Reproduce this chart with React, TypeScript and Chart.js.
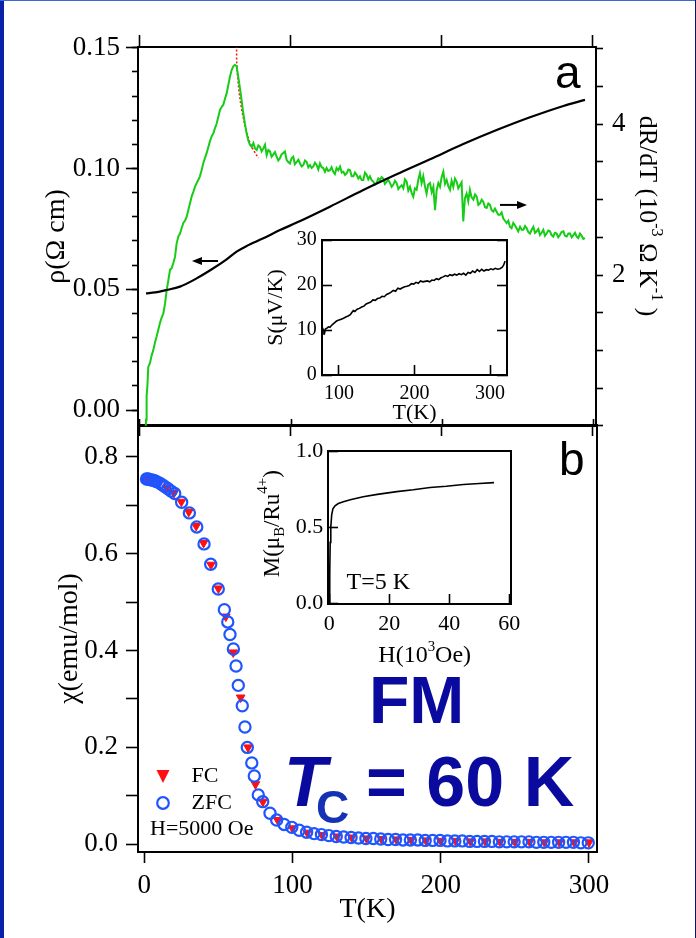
import React, { useEffect, useRef } from 'react';
import { Chart, registerables } from 'chart.js';
Chart.register(...registerables);

// ---------------- data ----------------
const RHO_T = [4, 10, 17.7, 26.5, 37.5, 48.6, 57.4, 64, 70.6, 81.7, 92.7, 103.8, 125.8, 147.9, 170, 192.1, 214.1, 236.2, 258.3, 280.4, 294.7];
const RHO = [0.0483, 0.0487, 0.0497, 0.0511, 0.0545, 0.0587, 0.0624, 0.0656, 0.0679, 0.0711, 0.0745, 0.0776, 0.0842, 0.0911, 0.0976, 0.1038, 0.1101, 0.1159, 0.1212, 0.1259, 0.1284];

const DRDT_T = [3.9, 4.0, 4.4, 4.9, 5.5, 6.6, 7.7, 8.8, 9.9, 11.0, 12.1, 13.2, 14.3, 15.5, 16.6, 17.7, 18.8, 19.9, 21.0, 22.1, 23.2, 24.3, 25.4, 26.5, 27.6, 28.7, 29.8, 30.9, 32.0, 33.1, 34.2, 35.3, 36.4, 37.5, 38.6, 39.7, 40.8, 41.9, 43.0, 44.2, 45.3, 46.4, 47.5, 48.6, 49.7, 50.8, 51.9, 53.0, 54.1, 55.2, 56.3, 57.4, 58.5, 59.6, 60.7, 61.8, 62.9, 64.0, 65.1, 66.2, 67.3, 68.4, 69.5, 70.6, 71.7, 72.8,
  74.0, 75.1, 76.2, 77.3, 78.4, 79.5, 80.6, 81.7, 82.8, 83.9, 85.0, 86.1, 87.2, 88.3, 89.4, 90.5, 91.6, 92.7, 93.8, 94.9, 96.0, 97.1, 98.2, 99.3, 100.4, 101.5, 102.6, 103.8, 104.9, 106.0, 107.1, 108.2, 109.3, 110.4, 111.5, 112.6, 113.7, 114.8, 115.9, 117.0, 118.1, 119.2, 120.3, 121.4, 122.5, 123.6, 124.7, 125.8, 126.9, 128.0, 129.1, 130.2, 131.3, 132.5, 133.6, 134.7, 135.8, 136.9, 138.0, 139.1, 140.2, 141.3, 142.4, 143.5, 144.6, 145.7, 146.8, 147.9, 149.0, 150.1, 151.2, 152.3, 153.4, 154.5, 155.6, 156.7, 157.8, 158.9, 160.0, 161.1, 162.2, 163.4, 164.5, 165.6, 166.7, 167.8, 168.9, 170.0, 171.1, 172.2, 173.3, 174.4, 175.5, 176.6, 177.7, 178.8, 179.9, 181.0, 182.1, 183.2, 184.3, 185.4, 186.5, 187.6, 188.7, 189.8, 190.9, 192.1, 193.2, 194.3, 195.4, 196.5, 197.6, 198.7, 199.8, 200.9, 202.0, 203.1, 204.2, 205.3, 206.4, 207.5, 208.6, 209.7, 210.8, 211.9, 213.0, 214.1, 215.2, 216.3, 217.4, 218.5, 219.6, 220.8, 221.9, 223.0, 224.1, 225.2, 226.3, 227.4, 228.5, 229.6, 230.7, 231.8, 232.9, 234.0, 235.1, 236.2, 237.3, 238.4, 239.5, 240.6, 241.7, 242.8, 243.9, 245.0, 246.1, 247.2, 248.3, 249.4, 250.5, 251.7, 252.8, 253.9, 255.0, 256.1, 257.2, 258.3, 259.4, 260.5, 261.6, 262.7, 263.8, 264.9, 266.0, 267.1, 268.2, 269.3, 270.4, 271.5, 272.6, 273.7, 274.8, 275.9, 277.0, 278.1, 279.2, 280.4, 281.5, 282.6, 283.7, 284.8, 285.9, 287.0, 288.1, 289.2, 290.3, 291.4, 292.5, 293.6, 294.7];
const DRDT = [0.0, 0.08, 0.39, 0.52, 0.78, 0.83, 0.93, 1.00, 1.10, 1.18, 1.27, 1.36, 1.43, 1.49, 1.62, 1.80, 1.93, 2.07, 2.09, 2.16, 2.24, 2.42, 2.51, 2.55, 2.62, 2.69, 2.72, 2.77, 2.86, 2.95, 3.04, 3.10, 3.17, 3.22, 3.26, 3.31, 3.39, 3.48, 3.55, 3.62, 3.70, 3.78, 3.84, 3.88, 3.95, 4.01, 4.10, 4.19, 4.23, 4.26, 4.34, 4.41, 4.52, 4.63, 4.72, 4.77, 4.79, 4.77, 4.63, 4.48, 4.32, 4.15, 4.01, 3.88, 3.79, 3.73,
  3.70, 3.75, 3.68, 3.66, 3.72, 3.70, 3.64, 3.68, 3.73, 3.59, 3.66, 3.64, 3.57, 3.60, 3.63, 3.57, 3.52, 3.55, 3.60, 3.62, 3.64, 3.53, 3.50, 3.48, 3.55, 3.57, 3.47, 3.50, 3.53, 3.48, 3.44, 3.46, 3.52, 3.50, 3.43, 3.46, 3.42, 3.44, 3.49, 3.46, 3.40, 3.48, 3.43, 3.42, 3.37, 3.42, 3.38, 3.39, 3.43, 3.37, 3.34, 3.42, 3.39, 3.44, 3.36, 3.37, 3.33, 3.35, 3.40, 3.39, 3.31, 3.31, 3.36, 3.33, 3.28, 3.31, 3.26, 3.26, 3.36, 3.33, 3.27, 3.31, 3.26, 3.24, 3.20, 3.22, 3.28, 3.26, 3.30, 3.28, 3.21, 3.24, 3.26, 3.22, 3.17, 3.20, 3.25, 3.22, 3.14, 3.17, 3.19, 3.15, 3.27, 3.24, 3.12, 3.17, 3.09, 3.04, 3.15, 3.13, 3.26, 3.35, 3.22, 3.31, 3.18, 3.08, 3.20, 3.22, 3.10, 3.17, 2.86, 3.13, 3.22, 3.17, 3.30, 3.37, 3.21, 3.26, 3.18, 3.13, 3.25, 3.17, 3.28, 3.24, 3.15, 3.19, 3.23, 2.71, 3.02, 3.08, 2.98, 3.13, 3.03, 3.00, 3.07, 3.04, 2.93, 2.95, 3.00, 2.97, 2.90, 2.89, 2.95, 2.93, 2.86, 2.84, 2.88, 2.84, 2.80, 2.80, 2.83, 2.75, 2.72, 2.69, 2.72, 2.64, 2.62, 2.69, 2.66, 2.62, 2.58, 2.64, 2.60, 2.60, 2.65, 2.62, 2.57, 2.55, 2.60, 2.64, 2.56, 2.58, 2.61, 2.53, 2.56, 2.60, 2.52, 2.55, 2.59, 2.58, 2.53, 2.51, 2.56, 2.55, 2.50, 2.53, 2.57, 2.58, 2.52, 2.51, 2.55, 2.55, 2.50, 2.53, 2.56, 2.51, 2.49, 2.55, 2.52, 2.48, 2.49];

const FIT_T = [64.0, 64.0, 64.6, 65.5, 66.5, 67.5, 69.0, 70.5, 72.0, 74.0, 76.0, 78.4];
const FIT = [5.1, 4.85, 4.65, 4.45, 4.30, 4.18, 4.03, 3.90, 3.80, 3.70, 3.63, 3.55];

const SEEBECK_T = [79, 80, 81, 82, 84, 86, 88, 90, 92, 94, 96, 98, 100, 103, 106, 109, 112, 115, 117, 119, 121, 124, 127, 130, 133, 136, 139, 142, 145, 148, 151, 154, 157, 160, 163, 166, 169, 172, 175, 178, 181, 184, 187, 190, 193, 196, 199, 202, 205, 208, 211, 214, 217, 220, 223, 226, 229, 232, 235, 238, 241, 244, 247, 250, 253, 256, 259, 262, 265, 268, 271, 274, 277, 280, 283, 286, 289, 292, 295, 298, 301, 304, 307, 310, 313, 316, 318, 320];
const SEEBECK = [9.1, 9.8, 9.4, 10.2, 10.4, 10.7, 10.6, 11.0, 11.3, 11.6, 11.9, 12.1, 12.2, 12.4, 12.6, 12.9, 13.1, 13.4, 13.9, 14.3, 14.1, 14.6, 14.8, 15.1, 15.3, 15.8, 16.0, 16.2, 16.7, 16.6, 17.0, 17.1, 17.5, 17.4, 17.9, 18.1, 18.4, 18.8, 18.6, 19.3, 19.1, 19.4, 19.6, 19.7, 19.9, 20.3, 20.2, 20.6, 20.4, 20.9, 20.7, 20.8, 20.9, 20.7, 21.1, 21.0, 21.4, 21.2, 21.6, 21.8, 22.1, 21.9, 22.3, 22.1, 22.4, 22.2, 22.5, 22.3, 22.6, 22.2, 22.8, 22.6, 23.1, 22.8, 23.4, 23.0, 23.5, 23.1, 23.4, 23.3, 23.6, 23.4, 23.7, 23.5, 23.6, 23.9, 24.4, 25.3];

const ZFC_T = [1.5, 2.5, 3.5, 5, 6.5, 8, 10, 12, 14, 16, 18, 20.5, 25.2, 30.4, 35.4, 40.3, 44.8, 49.9, 54, 56.3, 57.8, 60.1, 61.9, 63.4, 66.1, 67.9, 69.5, 72.5, 74.2, 76.9, 79.9, 84.8, 89.3, 94.3, 99.5, 104.5, 109.5, 114.5, 119.5, 124.5, 129.5, 134.5, 139.5, 144.5, 149.5, 154.5, 159.5, 164.5, 169.5, 174.5, 179.5, 184.5, 189.5, 194.5, 199.5, 204.5, 209.5, 214.5, 219.5, 224.5, 229.5, 234.5, 239.5, 244.5, 249.5, 254.5, 259.5, 264.5, 269.5, 274.5, 279.5, 284.5, 289.5, 294.5, 299.5];
const ZFC = [0.754, 0.754, 0.753, 0.752, 0.751, 0.749, 0.746, 0.742, 0.738, 0.734, 0.729, 0.724, 0.706, 0.684, 0.655, 0.620, 0.578, 0.527, 0.484, 0.459, 0.433, 0.403, 0.368, 0.328, 0.286, 0.242, 0.200, 0.168, 0.141, 0.102, 0.088, 0.064, 0.050, 0.041, 0.035, 0.029, 0.025, 0.022, 0.020, 0.018, 0.016, 0.015, 0.014, 0.013, 0.012, 0.012, 0.011, 0.010, 0.010, 0.009, 0.009, 0.009, 0.008, 0.008, 0.008, 0.007, 0.007, 0.007, 0.006, 0.006, 0.006, 0.006, 0.005, 0.005, 0.005, 0.005, 0.005, 0.004, 0.004, 0.004, 0.004, 0.004, 0.004, 0.003, 0.003];

const FC_T = [2, 5, 10, 15, 20, 25, 30, 35, 40, 45, 50, 55, 60, 65, 70, 75, 80, 90, 100, 110, 120, 130, 140, 150, 160, 170, 180, 190, 200, 210, 220, 230, 240, 250, 260, 270, 280, 290, 300];
const FC = [0.754, 0.752, 0.746, 0.736, 0.725, 0.707, 0.686, 0.657, 0.622, 0.577, 0.528, 0.470, 0.396, 0.303, 0.200, 0.124, 0.088, 0.050, 0.033, 0.024, 0.019, 0.016, 0.014, 0.012, 0.011, 0.010, 0.009, 0.008, 0.007, 0.007, 0.006, 0.006, 0.005, 0.005, 0.005, 0.004, 0.004, 0.004, 0.004];

const MH_H = [0, 0.1, 0.2, 0.3, 0.5, 0.8, 1.2, 1.9, 3, 4.7, 7, 11.3, 16, 22.5, 28, 33.6, 39, 44.7, 50, 54.9];
const MH_M = [0, 0.05, 0.2, 0.4, 0.5, 0.58, 0.62, 0.64, 0.655, 0.667, 0.68, 0.70, 0.715, 0.733, 0.745, 0.76, 0.768, 0.78, 0.787, 0.792];

// tick values
const T_TICKS = [0, 100, 200, 300];
const RHO_TICKS = [0, 0.05, 0.1, 0.15];
const RHO_MINOR = [0, 0.01, 0.02, 0.03, 0.04, 0.05, 0.06, 0.07, 0.08, 0.09, 0.1, 0.11, 0.12, 0.13, 0.14, 0.15];
const DRDT_TICKS = [0, 0.5, 1, 1.5, 2, 2.5, 3, 3.5, 4, 4.5, 5];
const DRDT_LABELS = [2, 4];
const CHI_TICKS = [0, 0.1, 0.2, 0.3, 0.4, 0.5, 0.6, 0.7, 0.8];
const S_T_TICKS = [100, 200, 300];
const S_TICKS = [0, 10, 20, 30];
const H_TICKS = [0, 20, 40, 60];
const M_TICKS = [0, 0.5, 1.0];

// annotation arrows (data coordinates)
const ARROW_RHO = { from: 51.7, to: 34.4, y: 0.0617 };
const ARROW_DRDT = { from: 238.4, to: 256.3, y: 2.93 };

// ---------------- styles ----------------
const SERIF = 'Liberation Serif';
const SANS = 'Liberation Sans';
const GREEN = '#16cc16';
const RED = '#ff1010';
const BLUE = '#1f55ff';
const NAVY = '#0a0a9e';
const NAVY2 = '#1632b4';

Chart.defaults.font.family = SERIF;
Chart.defaults.color = '#000';

const pts = (xs: number[], ys: number[]) => xs.map((x, i) => ({ x, y: ys[i] }));
const fixW = (w: number) => (s: any) => { s.width = w; };
const fixH = (h: number) => (s: any) => { s.height = h; };
const setTicks = (vals: number[]) => (s: any) => { s.ticks = vals.map((v) => ({ value: v })); };
const f = (size: number) => ({ family: SERIF, size });

function grid(tickLength: number, drawTicks = true) {
  return { drawOnChartArea: false, drawTicks, tickLength, tickWidth: 1.6, tickColor: '#000', color: '#000' };
}
const BORDER = { display: true, color: '#000', width: 2 };

type Seg = { t: string; s?: number; dy?: number };
function drawRich(ctx: CanvasRenderingContext2D, segs: Seg[], x: number, y: number, size: number, family: string, rot: number) {
  ctx.save();
  ctx.translate(x, y);
  if (rot) ctx.rotate(rot);
  ctx.fillStyle = '#000';
  ctx.textBaseline = 'middle';
  ctx.textAlign = 'left';
  const widths = segs.map((sg) => {
    ctx.font = `${size * (sg.s ?? 1)}px ${family}`;
    return ctx.measureText(sg.t).width;
  });
  const total = widths.reduce((a, b) => a + b, 0);
  let cx = -total / 2;
  segs.forEach((sg, i) => {
    ctx.font = `${size * (sg.s ?? 1)}px ${family}`;
    ctx.fillText(sg.t, cx, (sg.dy ?? 0) * size);
    cx += widths[i];
  });
  ctx.restore();
}

function arrow(ctx: CanvasRenderingContext2D, x1: number, x2: number, y: number) {
  const dir = Math.sign(x2 - x1);
  const head = 10;
  ctx.save();
  ctx.strokeStyle = '#000';
  ctx.fillStyle = '#000';
  ctx.lineWidth = 2;
  ctx.beginPath();
  ctx.moveTo(x1, y);
  ctx.lineTo(x2 - dir * head, y);
  ctx.stroke();
  ctx.beginPath();
  ctx.moveTo(x2, y);
  ctx.lineTo(x2 - dir * head, y - 4);
  ctx.lineTo(x2 - dir * head, y + 4);
  ctx.closePath();
  ctx.fill();
  ctx.restore();
}

const annotA = {
  id: 'annotA',
  afterDraw(chart: any) {
    const ctx = chart.ctx as CanvasRenderingContext2D;
    const { x, y, yR } = chart.scales;
    arrow(ctx, x.getPixelForValue(ARROW_RHO.from), x.getPixelForValue(ARROW_RHO.to), y.getPixelForValue(ARROW_RHO.y));
    arrow(ctx, x.getPixelForValue(ARROW_DRDT.from), x.getPixelForValue(ARROW_DRDT.to), yR.getPixelForValue(ARROW_DRDT.y));
    drawRich(ctx, [
      { t: 'dR/dT (10' }, { t: '-3', s: 0.62, dy: -0.38 }, { t: ' Ω K' }, { t: '-1', s: 0.62, dy: -0.38 }, { t: ' )' },
    ], 646.7, 216, 26, SERIF, Math.PI / 2);
    ctx.save();
    ctx.fillStyle = '#000';
    ctx.font = `46px ${SANS}`;
    ctx.textBaseline = 'alphabetic';
    ctx.textAlign = 'left';
    ctx.fillText('a', 555, 88);
    ctx.restore();
  },
};

const annotB = {
  id: 'annotB',
  afterDraw(chart: any) {
    const ctx = chart.ctx as CanvasRenderingContext2D;
    const ds = chart.data.datasets;
    ctx.save();
    ctx.fillStyle = RED;
    ctx.beginPath();
    ctx.moveTo(156.5, 770);
    ctx.lineTo(169.5, 770);
    ctx.lineTo(163, 783);
    ctx.closePath();
    ctx.fill();
    ctx.strokeStyle = BLUE;
    ctx.lineWidth = 2.2;
    ctx.beginPath();
    ctx.arc(163, 803, 5.8, 0, Math.PI * 2);
    ctx.stroke();
    ctx.fillStyle = '#000';
    ctx.font = `22px ${SERIF}`;
    ctx.textBaseline = 'middle';
    ctx.textAlign = 'left';
    ctx.fillText(ds[1].label, 191.5, 776);
    ctx.fillText(ds[0].label, 191.5, 803);
    ctx.fillText('H=5000 Oe', 150, 829.5);
    ctx.textBaseline = 'alphabetic';
    ctx.font = `46px ${SANS}`;
    ctx.fillText('b', 559, 475);
    ctx.fillStyle = NAVY;
    ctx.font = `bold 66px ${SANS}`;
    ctx.fillText('FM', 369, 723);
    ctx.font = `italic bold 70px ${SANS}`;
    ctx.fillText('T', 284, 806);
    ctx.fillStyle = NAVY2;
    ctx.font = `bold 46px ${SANS}`;
    ctx.fillText('C', 316, 823);
    ctx.fillStyle = NAVY;
    ctx.font = `bold 70px ${SANS}`;
    ctx.fillText('= 60 K', 366, 806);
    ctx.restore();
  },
};

const annotM = {
  id: 'annotM',
  afterDraw(chart: any) {
    const ctx = chart.ctx as CanvasRenderingContext2D;
    drawRich(ctx, [{ t: 'M(μ' }, { t: 'B', s: 0.65, dy: 0.3 }, { t: '/Ru' }, { t: '4+', s: 0.65, dy: -0.42 }, { t: ')' }], 273, 523.7, 23, SERIF, -Math.PI / 2);
    drawRich(ctx, [{ t: 'H(10' }, { t: '3', s: 0.62, dy: -0.38 }, { t: 'Oe)' }], 424.7, 656, 24, SERIF, 0);
    ctx.save();
    ctx.fillStyle = '#000';
    ctx.font = `24px ${SERIF}`;
    ctx.textBaseline = 'middle';
    ctx.textAlign = 'left';
    ctx.fillText('T=5 K', 346.5, 583);
    ctx.restore();
  },
};

const whiteArea = {
  id: 'whiteArea',
  beforeDraw(chart: any) {
    const { ctx, chartArea: a } = chart;
    ctx.save();
    ctx.fillStyle = '#fff';
    ctx.fillRect(a.left, a.top, a.right - a.left, a.bottom - a.top);
    ctx.restore();
  },
};

const common = {
  responsive: false,
  animation: false as const,
  events: [] as any[],
  plugins: { legend: { display: false }, tooltip: { enabled: false } },
};

function configA(): any {
  return {
    type: 'line',
    data: {
      datasets: [
        { label: 'ρ', data: pts(RHO_T, RHO), xAxisID: 'x', yAxisID: 'y', borderColor: '#000', borderWidth: 2.2, pointRadius: 0, cubicInterpolationMode: 'monotone' },
        { label: 'dR/dT', data: pts(DRDT_T, DRDT), xAxisID: 'x', yAxisID: 'yR', borderColor: GREEN, borderWidth: 2, pointRadius: 0 },
        { label: 'fit', data: pts(FIT_T, FIT), xAxisID: 'x', yAxisID: 'yR', borderColor: RED, borderWidth: 1.5, borderDash: [2, 2], pointRadius: 0 },
      ],
    },
    options: {
      ...common,
      layout: { padding: { left: 40, top: 34, right: 40, bottom: 500 } },
      scales: {
        x: { type: 'linear', position: 'bottom', min: -1.3, max: 302, afterBuildTicks: setTicks(T_TICKS), ticks: { display: false }, grid: grid(10), border: BORDER, afterFit: fixH(12) },
        xTop: { type: 'linear', position: 'top', min: -1.3, max: 302, afterBuildTicks: setTicks(T_TICKS), ticks: { display: false }, grid: grid(12), border: BORDER, afterFit: fixH(13) },
        y: {
          type: 'linear', position: 'left', weight: 1, min: -0.0066, max: 0.1503,
          afterBuildTicks: setTicks(RHO_TICKS),
          ticks: { autoSkip: false, padding: 6, font: f(27), color: '#000', callback: (v: number) => v.toFixed(2) },
          grid: grid(12), border: BORDER,
          title: { display: true, text: 'ρ(Ω cm)', font: f(28), color: '#000', padding: 0 },
          afterFit: fixW(98),
        },
        yMinor: { type: 'linear', position: 'left', weight: 0, min: -0.0066, max: 0.1503, afterBuildTicks: setTicks(RHO_MINOR), ticks: { display: false }, grid: grid(6), border: BORDER, afterFit: fixW(0) },
        yR: {
          type: 'linear', position: 'right', min: -0.004, max: 5.026,
          afterBuildTicks: setTicks(DRDT_TICKS),
          ticks: { autoSkip: false, padding: 9, font: f(27), color: '#000', callback: (v: number) => (DRDT_LABELS.includes(v) ? String(v) : '') },
          grid: grid(7), border: BORDER, afterFit: fixW(60),
        },
      },
    },
    plugins: [annotA],
  };
}

function configB(): any {
  return {
    type: 'scatter',
    data: {
      datasets: [
        { label: 'ZFC', data: pts(ZFC_T, ZFC), pointStyle: 'circle', pointRadius: 5.6, borderColor: BLUE, backgroundColor: 'rgba(0,0,0,0)', borderWidth: 2.2, order: 0 },
        { label: 'FC', data: pts(FC_T, FC), pointStyle: 'triangle', pointRotation: 180, pointRadius: 5, borderColor: RED, backgroundColor: RED, borderWidth: 1, order: 1 },
      ],
    },
    options: {
      ...common,
      layout: { padding: { left: 53, top: 419, right: 99, bottom: 12 } },
      scales: {
        x: {
          type: 'linear', position: 'bottom', min: -4.25, max: 305.4,
          afterBuildTicks: setTicks(T_TICKS),
          ticks: { autoSkip: false, padding: 7, font: f(27), color: '#000' },
          grid: grid(11), border: BORDER,
          title: { display: true, text: 'T(K)', font: f(28), color: '#000', padding: 0 },
          afterFit: fixH(74),
        },
        xTop: { type: 'linear', position: 'top', min: -1.3, max: 302, afterBuildTicks: setTicks(T_TICKS), ticks: { display: false }, grid: grid(6), border: BORDER, afterFit: fixH(6) },
        y: {
          type: 'linear', position: 'left', min: -0.0159, max: 0.8654,
          afterBuildTicks: setTicks(CHI_TICKS),
          ticks: { autoSkip: false, padding: 8, font: f(27), color: '#000', callback: (v: number) => (Math.round(v * 10) % 2 === 0 ? v.toFixed(1) : '') },
          grid: grid(12), border: BORDER,
          title: { display: true, text: 'χ(emu/mol)', font: f(28), color: '#000', padding: 0 },
          afterFit: fixW(85),
        },
        yR: { type: 'linear', position: 'right', min: -0.0159, max: 0.8654, ticks: { display: false }, grid: grid(0, false), border: BORDER, afterFit: fixW(0) },
      },
    },
    plugins: [annotB],
  };
}

function configS(): any {
  return {
    type: 'line',
    data: { datasets: [{ label: 'S', data: pts(SEEBECK_T, SEEBECK), borderColor: '#000', borderWidth: 1.6, pointRadius: 0 }] },
    options: {
      ...common,
      layout: { padding: { left: 262.8, top: 240, right: 189, bottom: 511.8 } },
      scales: {
        x: {
          type: 'linear', position: 'bottom', min: 77.5, max: 322.5,
          afterBuildTicks: setTicks(S_T_TICKS),
          ticks: { autoSkip: false, padding: 16.3, font: f(20), color: '#000' },
          grid: grid(-10), border: BORDER,
          title: { display: true, text: 'T(K)', font: f(22), color: '#000', padding: 0 },
          afterFit: fixH(51.2),
        },
        xTop: { type: 'linear', position: 'top', min: 77.5, max: 322.5, ticks: { display: false }, grid: grid(0, false), border: BORDER, afterFit: fixH(0) },
        y: {
          type: 'linear', position: 'left', min: 0, max: 30,
          afterBuildTicks: setTicks(S_TICKS),
          ticks: { autoSkip: false, padding: 15.3, font: f(20), color: '#000' },
          grid: grid(-10), border: BORDER,
          title: { display: true, text: 'S(μV/K)', font: f(22), color: '#000', padding: 0 },
          afterFit: fixW(59.2),
        },
        yR: { type: 'linear', position: 'right', min: 0, max: 30, afterBuildTicks: setTicks(S_TICKS), ticks: { display: false }, grid: grid(-10), border: BORDER, afterFit: fixW(0) },
      },
    },
    plugins: [whiteArea],
  };
}

function configM(): any {
  return {
    type: 'line',
    data: { datasets: [{ label: 'M', data: pts(MH_H, MH_M), borderColor: '#000', borderWidth: 1.6, pointRadius: 0 }] },
    options: {
      ...common,
      layout: { padding: { left: 288, top: 451, right: 185, bottom: 294 } },
      scales: {
        x: {
          type: 'linear', position: 'bottom', min: -0.43, max: 60.57,
          afterBuildTicks: setTicks(H_TICKS),
          ticks: { autoSkip: false, padding: 16.8, font: f(22), color: '#000' },
          grid: grid(-10), border: BORDER, afterFit: fixH(40),
        },
        xTop: { type: 'linear', position: 'top', min: -0.43, max: 60.57, ticks: { display: false }, grid: grid(0, false), border: BORDER, afterFit: fixH(0) },
        y: {
          type: 'linear', position: 'left', min: -0.005, max: 1.0,
          afterBuildTicks: setTicks(M_TICKS),
          ticks: { autoSkip: false, padding: 14.7, font: f(22), color: '#000', callback: (v: number) => v.toFixed(1) },
          grid: grid(-10), border: BORDER, afterFit: fixW(40),
        },
        yR: { type: 'linear', position: 'right', min: -0.005, max: 1.0, ticks: { display: false }, grid: grid(0, false), border: BORDER, afterFit: fixW(0) },
      },
    },
    plugins: [whiteArea, annotM],
  };
}

const canvasStyle: React.CSSProperties = { position: 'absolute', left: 0, top: 0, width: 696, height: 938 };

export default function App() {
  const rB = useRef<HTMLCanvasElement>(null);
  const rA = useRef<HTMLCanvasElement>(null);
  const rS = useRef<HTMLCanvasElement>(null);
  const rM = useRef<HTMLCanvasElement>(null);

  useEffect(() => {
    const charts = [
      new Chart(rB.current as HTMLCanvasElement, configB()),
      new Chart(rA.current as HTMLCanvasElement, configA()),
      new Chart(rS.current as HTMLCanvasElement, configS()),
      new Chart(rM.current as HTMLCanvasElement, configM()),
    ];
    return () => charts.forEach((c) => c.destroy());
  }, []);

  return (
    <div style={{ position: 'absolute', left: 0, top: 0, width: 696, height: 938, background: '#fff', overflow: 'hidden' }}>
      <canvas ref={rB} width={696} height={938} style={canvasStyle} />
      <canvas ref={rA} width={696} height={938} style={canvasStyle} />
      <canvas ref={rS} width={696} height={938} style={canvasStyle} />
      <canvas ref={rM} width={696} height={938} style={canvasStyle} />
      <div style={{ position: 'absolute', left: 0, top: 0, width: 4, height: 938, background: '#0a22a8' }} />
      <div style={{ position: 'absolute', left: 0, top: 0, width: 696, height: 1, background: '#3a66d8' }} />
      <div style={{ position: 'absolute', right: 0, top: 0, width: 1, height: 938, background: '#0a1470' }} />
    </div>
  );
}
